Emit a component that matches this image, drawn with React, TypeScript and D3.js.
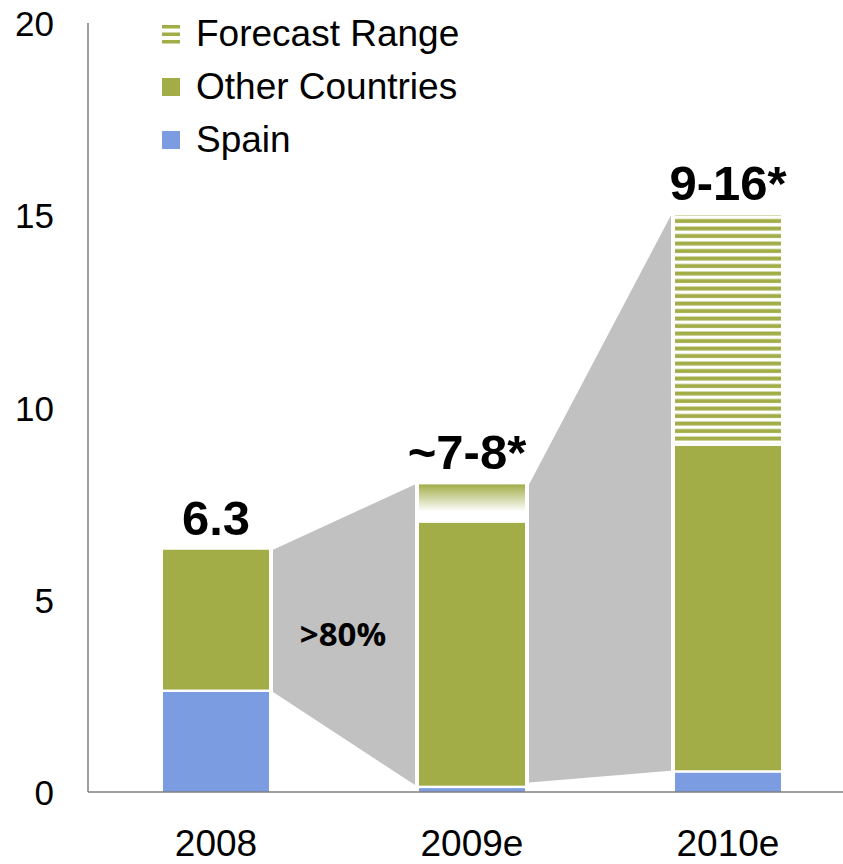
import { useEffect, useRef } from 'react';
import * as d3 from 'd3';

const years = ['2008', '2009e', '2010e'];
const spain = [2.6, 0.1, 0.5];
const other = [3.7, 6.9, 8.5];
const forecastLow = [null, 7, 9];
const forecastHigh = [null, 8, 15];
const topLabels = ['6.3', '~7-8*', '9-16*'];
const yTicks = [0, 5, 10, 15, 20];
// connectors between bars: left edge [top, bottom], right edge [top, bottom]
const connectors = [
  { from: 0, to: 1, l: [6.3, 2.6], r: [8, 0.18] },
  { from: 1, to: 2, l: [8, 0.25], r: [15, 0.55] },
];
const growthLabel = '>80%';
const legendItems = ['Forecast Range', 'Other Countries', 'Spain'];

const GREEN = '#a2ad48';
const BLUE = '#7b9ce1';
const GRAY = '#c1c1c1';
const FONT = '"Liberation Sans", Arial, sans-serif';

const App = () => {
  const svgRef = useRef<SVGSVGElement | null>(null);

  useEffect(() => {
    if (!svgRef.current) return;
    const svg = d3.select(svgRef.current);
    svg.selectAll('*').remove();

    const width = 843;
    const height = 864;
    const axisX = 88;
    const y = d3.scaleLinear().domain([0, 20]).range([792, 23]);
    const x = d3.scalePoint<string>().domain(years).range([axisX, 856]).padding(0.5);
    const barW = 106;
    const gap = 4;

    const defs = svg.append('defs');
    const grad = defs.append('linearGradient')
      .attr('id', 'fadeGreen')
      .attr('x1', 0).attr('y1', 0).attr('x2', 0).attr('y2', 1);
    grad.append('stop').attr('offset', '0%').attr('stop-color', GREEN);
    grad.append('stop').attr('offset', '75%').attr('stop-color', '#ffffff');
    grad.append('stop').attr('offset', '100%').attr('stop-color', '#ffffff');

    const pat = defs.append('pattern')
      .attr('id', 'stripes')
      .attr('patternUnits', 'userSpaceOnUse')
      .attr('width', 20).attr('height', 7.5);
    pat.append('rect').attr('width', 20).attr('height', 7.5).attr('fill', '#fff');
    pat.append('rect').attr('y', 1.5).attr('width', 20).attr('height', 4).attr('fill', GREEN);

    // connectors
    svg.selectAll('.conn')
      .data(connectors)
      .enter()
      .append('polygon')
      .attr('fill', GRAY)
      .attr('points', d => {
        const x1 = x(years[d.from])! + barW / 2 + gap;
        const x2 = x(years[d.to])! - barW / 2 - gap;
        return [
          [x1, y(d.l[0])], [x2, y(d.r[0])], [x2, y(d.r[1])], [x1, y(d.l[1])],
        ].map(p => p.join(',')).join(' ');
      });

    svg.append('text')
      .attr('x', 343)
      .attr('y', 646)
      .attr('text-anchor', 'middle')
      .attr('font-family', '"Open Sans", Arial, sans-serif')
      .attr('font-weight', 700)
      .attr('font-size', 33)
      .attr('fill', '#000')
      .text(growthLabel);

    // bars
    years.forEach((yr, i) => {
      const bx = x(yr)! - barW / 2;
      const g = svg.append('g');
      g.append('rect')
        .attr('x', bx).attr('width', barW)
        .attr('y', y(spain[i])).attr('height', y(0) - y(spain[i]))
        .attr('fill', BLUE);
      const otherTop = spain[i] + other[i];
      g.append('rect')
        .attr('x', bx).attr('width', barW)
        .attr('y', y(otherTop)).attr('height', y(spain[i]) - y(otherTop) - 2.5)
        .attr('fill', GREEN);
      if (forecastLow[i] != null) {
        const lo = forecastLow[i] as number;
        const hi = forecastHigh[i] as number;
        g.append('rect')
          .attr('x', bx).attr('width', barW)
          .attr('y', y(hi)).attr('height', y(lo) - y(hi) - 2.5)
          .attr('fill', i === 1 ? 'url(#fadeGreen)' : 'url(#stripes)');
      }
      const top = forecastHigh[i] != null ? (forecastHigh[i] as number) : otherTop;
      g.append('text')
        .attr('x', x(yr)! - (i === 1 ? 5 : 0))
        .attr('y', y(top) - 15)
        .attr('text-anchor', 'middle')
        .attr('font-family', FONT)
        .attr('font-weight', 700)
        .attr('font-size', 49)
        .attr('fill', '#000')
        .text(topLabels[i]);
    });

    // axes
    svg.append('line')
      .attr('x1', axisX).attr('x2', axisX)
      .attr('y1', y(20)).attr('y2', y(0))
      .attr('stroke', '#7f7f7f').attr('stroke-width', 1.5);
    svg.append('line')
      .attr('x1', axisX).attr('x2', width)
      .attr('y1', y(0)).attr('y2', y(0))
      .attr('stroke', '#7f7f7f').attr('stroke-width', 1.5);

    svg.selectAll('.ytick')
      .data(yTicks)
      .enter()
      .append('text')
      .attr('x', 54)
      .attr('y', d => y(d) + 13)
      .attr('text-anchor', 'end')
      .attr('font-family', FONT)
      .attr('font-size', 35)
      .attr('fill', '#000')
      .text(d => d);

    svg.selectAll('.xtick')
      .data(years)
      .enter()
      .append('text')
      .attr('x', d => x(d)!)
      .attr('y', 856)
      .attr('text-anchor', 'middle')
      .attr('font-family', FONT)
      .attr('font-size', 37)
      .attr('fill', '#000')
      .text(d => d);

    // legend
    const leg = svg.append('g');
    legendItems.forEach((name, i) => {
      const cy = 34 + i * 53;
      if (i === 0) {
        [0, 7.5, 15].forEach(o => {
          leg.append('rect')
            .attr('x', 162).attr('y', cy - 9 + o).attr('width', 18).attr('height', 3.5)
            .attr('fill', GREEN);
        });
      } else {
        leg.append('rect')
          .attr('x', 162).attr('y', cy - 9).attr('width', 18).attr('height', 18)
          .attr('fill', i === 1 ? GREEN : BLUE);
      }
      leg.append('text')
        .attr('x', 196)
        .attr('y', cy + 12)
        .attr('font-family', FONT)
        .attr('font-size', 37)
        .attr('fill', '#000')
        .text(name);
    });

    svg.attr('width', width).attr('height', height);
  }, []);

  return (
    <svg
      ref={svgRef}
      width={843}
      height={864}
      style={{ position: 'absolute', left: 0, top: 0, background: '#fff' }}
    />
  );
};

export default App;
